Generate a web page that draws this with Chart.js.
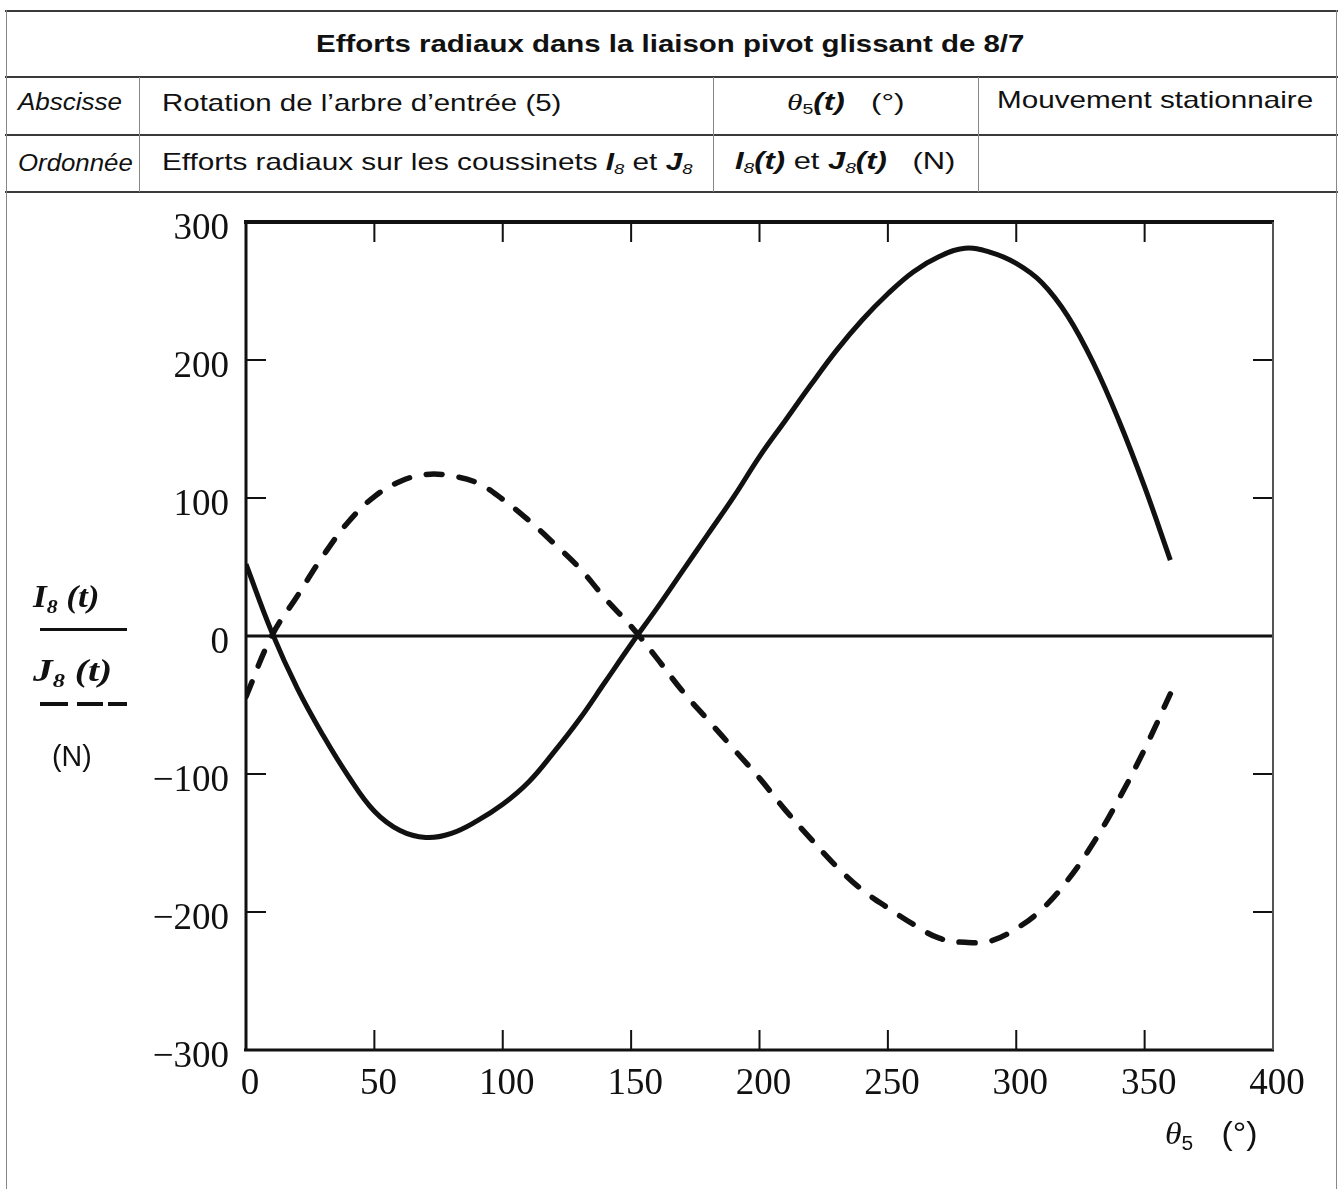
<!DOCTYPE html>
<html><head><meta charset="utf-8">
<script src="https://cdn.jsdelivr.net/npm/chart.js@4.4.1/dist/chart.umd.min.js"></script>
<style>
html,body{margin:0;padding:0;background:#fff;width:1340px;height:1189px;overflow:hidden;position:relative;font-family:"Liberation Sans",Arial,sans-serif;color:#111}
#cv{position:absolute;left:0;top:193px}
.ln{position:absolute;background:#3a3a3a}
.dl{position:absolute;background:#888}
.t{position:absolute;white-space:nowrap;transform-origin:0 50%;line-height:1.15;font-size:24px}
.sb{font-size:.62em;vertical-align:-.3em}
.bi{font-weight:bold;font-style:italic}
.it{font-style:italic}
.ser{font-family:"Liberation Serif","Times New Roman",serif}
</style></head>
<body>
<canvas id="cv" width="1340" height="996"></canvas>

<!-- table borders -->
<div class="ln" style="left:5px;top:10px;width:1333px;height:2px"></div>
<div class="ln" style="left:5px;top:76px;width:1333px;height:2px"></div>
<div class="ln" style="left:5px;top:134px;width:1333px;height:2px"></div>
<div class="ln" style="left:5px;top:191px;width:1333px;height:2px"></div>
<div class="dl" style="left:6px;top:10px;width:1px;height:1179px"></div>
<div class="dl" style="left:1336px;top:10px;width:1px;height:1179px"></div>
<div class="dl" style="left:139px;top:77px;width:1px;height:115px"></div>
<div class="dl" style="left:713px;top:77px;width:1px;height:115px"></div>
<div class="dl" style="left:978px;top:77px;width:1px;height:115px"></div>

<div id="t1" class="t" style="font-weight:bold">Efforts radiaux dans la liaison pivot glissant de 8/7</div>
<div id="t2" class="t it">Abscisse</div>
<div id="t3" class="t">Rotation de l’arbre d’entrée (5)</div>
<div id="t4" class="t"><span class="it ser">θ</span><span class="sb">5</span><span class="bi">(t)</span>&nbsp;&nbsp; (°)</div>
<div id="t5" class="t">Mouvement stationnaire</div>
<div id="t6" class="t it">Ordonnée</div>
<div id="t7" class="t">Efforts radiaux sur les coussinets <span class="bi">I</span><span class="sb it">8</span> et <span class="bi">J</span><span class="sb it">8</span></div>
<div id="t8" class="t"><span class="bi">I</span><span class="sb it">8</span><span class="bi">(t)</span> et <span class="bi">J</span><span class="sb it">8</span><span class="bi">(t)</span>&nbsp;&nbsp; (N)</div>

<!-- axis titles -->
<div id="y1" class="t ser bi" style="font-size:32px">I<span class="sb">8</span> (t)</div>
<div class="ln" style="left:40px;top:628px;width:87px;height:3px;background:#111"></div>
<div id="y2" class="t ser bi" style="font-size:32px">J<span class="sb">8</span> (t)</div>
<div class="ln" style="left:40px;top:702px;width:28px;height:4px;background:#111"></div>
<div class="ln" style="left:77px;top:702px;width:26px;height:4px;background:#111"></div>
<div class="ln" style="left:108px;top:702px;width:19px;height:4px;background:#111"></div>
<div id="y3" class="t" style="font-size:30px">(N)</div>
<div id="x1" class="t" style="font-size:32px"><span class="ser it">θ</span><span class="sb">5</span>&nbsp;&nbsp; (°)</div>

<script>
// ---- data ----
const thetaDeg = [0,10,20,30,40,50,60,70,80,90,100,110,120,130,140,150,160,170,180,190,200,210,220,230,240,250,260,270,280,290,300,310,320,330,340,350,360];
const I8 = [52,3,-38,-72,-102,-127,-141,-146,-143,-134,-122,-106,-84,-60,-33,-6,20,47,74,101,130,156,182,207,229,248,264,275,281,278,270,256,232,198,156,108,55];
const J8 = [-44,0,29,58,83,101,112,117,116,111,99,84,67,49,27,7,-16,-40,-61,-82,-103,-126,-147,-167,-184,-197,-209,-219,-222,-221,-212,-198,-177,-150,-118,-82,-42];
const xTicks = [0,50,100,150,200,250,300,350,400];
const yTicks = [-300,-200,-100,0,100,200,300];

function fit(id,left,cy,width){
  const el=document.getElementById(id);
  const w=el.offsetWidth,h=el.offsetHeight;
  el.style.left=left+'px';el.style.top=(cy-h/2)+'px';
  el.style.transform='scaleX('+(width/w)+')';
}
fit('t1',316,44,709);
fit('t2',18,102,104);
fit('t3',162,103,400);
fit('t4',787,103,118);
fit('t5',997,100,316);
fit('t6',18,163,115);
fit('t7',162,163,530);
fit('t8',735,162,220);
fit('y1',33,598,67);
fit('y2',33,672,79);
fit('y3',52,756,40);
fit('x1',1165,1135,93);

const framePlugin={
  id:'frame',
  beforeDatasetsDraw(chart){
    const {ctx,chartArea:{left,right,top,bottom},scales:{x,y}}=chart;
    ctx.save();
    ctx.strokeStyle='#111';ctx.lineCap='butt';
    // zero line
    ctx.lineWidth=3;
    const y0=y.getPixelForValue(0);
    ctx.beginPath();ctx.moveTo(left,y0);ctx.lineTo(right,y0);ctx.stroke();
    // ticks inward
    ctx.lineWidth=2;
    xTicks.slice(1,-1).forEach(v=>{
      const px=x.getPixelForValue(v);
      ctx.beginPath();ctx.moveTo(px,top);ctx.lineTo(px,top+20);ctx.moveTo(px,bottom);ctx.lineTo(px,bottom-20);ctx.stroke();
    });
    yTicks.filter(v=>v!==0&&v!==yTicks[0]&&v!==yTicks[yTicks.length-1]).forEach(v=>{
      const py=y.getPixelForValue(v);
      ctx.beginPath();ctx.moveTo(left,py);ctx.lineTo(left+20,py);ctx.moveTo(right,py);ctx.lineTo(right-20,py);ctx.stroke();
    });
    // frame
    ctx.lineWidth=4;ctx.beginPath();ctx.moveTo(left-2,top);ctx.lineTo(right+1,top);ctx.stroke();
    ctx.lineWidth=3;ctx.beginPath();ctx.moveTo(left-2,bottom);ctx.lineTo(right+1,bottom);ctx.stroke();
    ctx.lineWidth=3;ctx.beginPath();ctx.moveTo(left,top);ctx.lineTo(left,bottom);ctx.stroke();
    ctx.strokeStyle='#555';ctx.lineWidth=2;ctx.beginPath();ctx.moveTo(right,top);ctx.lineTo(right,bottom);ctx.stroke();
    ctx.restore();
  }
};

new Chart(document.getElementById('cv'),{
  type:'line',
  data:{
    labels:thetaDeg,
    datasets:[
      {label:'I8(t)',data:thetaDeg.map((t,i)=>({x:t,y:I8[i]})),borderColor:'#111',borderWidth:5,pointRadius:0,tension:0.4,fill:false},
      {label:'J8(t)',data:thetaDeg.map((t,i)=>({x:t,y:J8[i]})),borderColor:'#111',borderWidth:5.5,borderDash:[16,17],borderCapStyle:'round',pointRadius:0,tension:0.4,fill:false}
    ]
  },
  options:{
    responsive:false,maintainAspectRatio:false,animation:false,devicePixelRatio:1,
    layout:{padding:{top:29,right:67,left:0,bottom:0}},
    plugins:{legend:{display:false},tooltip:{enabled:false},title:{display:false}},
    scales:{
      x:{type:'linear',min:0,max:400,
        afterFit(s){s.height=139;s.paddingLeft=0;s.paddingRight=0;},
        grid:{display:false,drawTicks:false},border:{display:false},
        ticks:{stepSize:50,padding:12,labelOffset:4,color:'#111',maxRotation:0,autoSkip:false,font:{family:'"Liberation Serif", serif',size:37}}
      },
      y:{type:'linear',min:-300,max:300,
        afterFit(s){s.width=246;s.paddingTop=0;s.paddingBottom=0;},
        grid:{display:false,drawTicks:false},border:{display:false},
        ticks:{stepSize:100,padding:17,labelOffset:7,color:'#111',font:{family:'"Liberation Serif", serif',size:37},
          callback:v=>String(v).replace('-','\u2212')}
      }
    }
  },
  plugins:[framePlugin]
});
</script>
</body></html>
